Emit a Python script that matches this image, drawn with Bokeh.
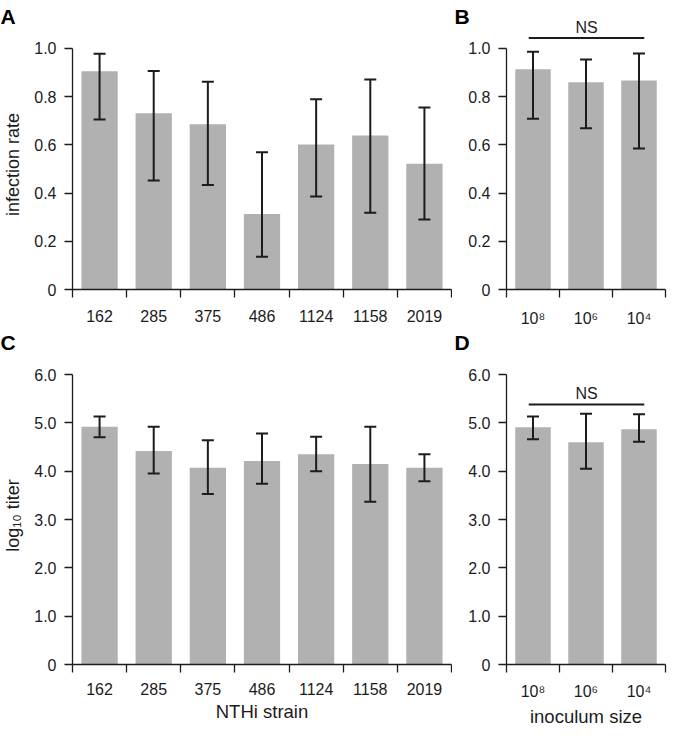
from bokeh.plotting import figure
from bokeh.models import Range1d, FixedTicker, Whisker, TeeHead, ColumnDataSource
from bokeh.layouts import column, row
from bokeh.embed import file_html
from bokeh.resources import INLINE
from bokeh.core.properties import value

# ---------------- data ----------------
strains = ["162", "285", "375", "486", "1124", "1158", "2019"]
inocula = ["10\u2078", "10\u2076", "10\u2074"]

rate_strain = [0.906, 0.731, 0.686, 0.313, 0.602, 0.639, 0.522]
rate_strain_lo = [0.705, 0.452, 0.434, 0.136, 0.386, 0.318, 0.290]
rate_strain_hi = [0.978, 0.907, 0.862, 0.569, 0.789, 0.871, 0.755]

rate_inoc = [0.914, 0.860, 0.867]
rate_inoc_lo = [0.708, 0.669, 0.585]
rate_inoc_hi = [0.986, 0.954, 0.979]

titer_strain = [4.92, 4.42, 4.07, 4.21, 4.35, 4.15, 4.07]
titer_strain_lo = [4.70, 3.95, 3.53, 3.74, 4.00, 3.37, 3.79]
titer_strain_hi = [5.13, 4.92, 4.64, 4.78, 4.71, 4.92, 4.35]

titer_inoc = [4.91, 4.60, 4.87]
titer_inoc_lo = [4.66, 4.05, 4.61]
titer_inoc_hi = [5.13, 5.19, 5.18]

rate_ticks = [0, 0.2, 0.4, 0.6, 0.8, 1.0]
rate_tick_labels = ["0", "0.2", "0.4", "0.6", "0.8", "1.0"]
titer_ticks = [0, 1, 2, 3, 4, 5, 6]
titer_tick_labels = ["0", "1.0", "2.0", "3.0", "4.0", "5.0", "6.0"]

panel_letters = ["A", "B", "C", "D"]
ns_label = "NS"

# ---------------- style / geometry ----------------
FONT = "Liberation Sans"
BAR = "#b1b1b1"
INK = "#1c1c1c"
TOTAL_W = 667
LEFT_W, RIGHT_W = 452, 215
L_BORDER_LEFT, L_BORDER_RIGHT = 65, 1
R_BORDER_LEFT, R_BORDER_RIGHT = 54, 2
NS_SPAN = (0.42, 2.6)


def blank(width, height, x_range, y_range):
    p = figure(width=width, height=height, output_backend="svg", toolbar_location=None,
               x_range=x_range, y_range=y_range, title=None, min_border=0,
               x_axis_location=None, y_axis_location=None)
    p.outline_line_color = None
    p.grid.visible = False
    return p


def letter(p, x, y, text):
    p.text(x=[x], y=[y], text=[text], text_align="left", text_baseline="middle",
           text_font=value(FONT), text_font_size="21px", text_font_style="bold",
           text_color="black")


def ns_mark(p, yline, ytext_offset):
    x0, x1 = NS_SPAN
    p.segment(x0=[x0], y0=[yline], x1=[x1], y1=[yline], line_width=2, line_color=INK)
    p.text(x=[(x0 + x1) / 2], y=[yline], text=[ns_label], text_align="center",
           text_baseline="middle", y_offset=ytext_offset, text_font=value(FONT),
           text_font_size="16px", text_color=INK)


def panel(cats, vals, lo, hi, y_end, y_top, yticks, ylabels, width, height,
          borders, xlabel=None, ylabel=None, xl_standoff=12):
    n = len(cats)
    centers = [i + 0.5 for i in range(n)]
    bl, br, bt, bb = borders
    p = figure(width=width, height=height, output_backend="svg", toolbar_location=None,
               x_range=Range1d(0, n), y_range=Range1d(0, y_end), title=None,
               min_border_left=bl, min_border_right=br, min_border_top=bt,
               min_border_bottom=bb)
    p.outline_line_color = None
    p.grid.visible = False
    p.background_fill_color = "white"
    p.border_fill_color = "white"

    p.vbar(x=centers, top=vals, width=0.67, fill_color=BAR, line_color=None)
    src = ColumnDataSource(dict(x=centers, lo=lo, hi=hi))
    p.add_layout(Whisker(base="x", lower="lo", upper="hi", source=src, level="overlay",
                         line_width=2, line_color=INK,
                         upper_head=TeeHead(size=12, line_width=2, line_color=INK),
                         lower_head=TeeHead(size=12, line_width=2, line_color=INK)))

    xa = p.xaxis[0]
    xa.ticker = FixedTicker(ticks=centers, minor_ticks=list(range(n + 1)))
    xa.major_label_overrides = {c: lab for c, lab in zip(centers, cats)}
    xa.major_tick_out = 0
    xa.major_tick_in = 0
    xa.minor_tick_out = 8
    xa.minor_tick_in = 0
    xa.minor_tick_line_color = INK
    xa.minor_tick_line_width = 1.3
    xa.axis_line_color = INK
    xa.axis_line_width = 1.3
    xa.major_label_standoff = xl_standoff
    xa.major_label_text_font = FONT
    xa.major_label_text_font_size = "16px"
    xa.major_label_text_color = INK
    if xlabel:
        xa.axis_label = xlabel
        xa.axis_label_text_font = FONT
        xa.axis_label_text_font_size = "18.5px"
        xa.axis_label_text_font_style = "normal"
        xa.axis_label_text_color = INK
        xa.axis_label_standoff = 3

    ya = p.yaxis[0]
    ya.ticker = FixedTicker(ticks=yticks, minor_ticks=[])
    ya.major_label_overrides = {t: lab for t, lab in zip(yticks, ylabels)}
    ya.bounds = (0, y_top)
    ya.major_tick_out = 8
    ya.major_tick_in = 0
    ya.minor_tick_out = 0
    ya.minor_tick_in = 0
    ya.major_tick_line_color = INK
    ya.major_tick_line_width = 1.3
    ya.axis_line_color = INK
    ya.axis_line_width = 1.3
    ya.major_label_standoff = 8
    ya.major_label_text_font = FONT
    ya.major_label_text_font_size = "16px"
    ya.major_label_text_color = INK
    if ylabel:
        ya.axis_label = ylabel
        ya.axis_label_text_font = FONT
        ya.axis_label_text_font_size = "18px"
        ya.axis_label_text_font_style = "normal"
        ya.axis_label_text_color = INK
        ya.axis_label_standoff = 8
    return p


BAND1, H1, BAND2, H2 = 39, 290, 25, 376
Y1_END = 1.0373
Y2_END = 6.166

# top band: letter A, letter B and the NS bracket of panel B (same x scale as panel B)
band_a = blank(LEFT_W, BAND1, Range1d(0, LEFT_W), Range1d(0, BAND1))
letter(band_a, 0, BAND1 - 15.5, panel_letters[0])
ppu_b = (RIGHT_W - R_BORDER_LEFT - R_BORDER_RIGHT) / len(inocula)
band_b = blank(RIGHT_W, BAND1,
               Range1d(-R_BORDER_LEFT / ppu_b, len(inocula) + R_BORDER_RIGHT / ppu_b),
               Range1d(0, BAND1))
letter(band_b, (2 - R_BORDER_LEFT) / ppu_b, BAND1 - 15.5, panel_letters[1])
ns_mark(band_b, 1.5, -10.5)

pa = panel(strains, rate_strain, rate_strain_lo, rate_strain_hi, Y1_END, 1.0,
           rate_ticks, rate_tick_labels, LEFT_W, H1, (L_BORDER_LEFT, L_BORDER_RIGHT, 0, 40),
           ylabel="infection rate")
pb = panel(inocula, rate_inoc, rate_inoc_lo, rate_inoc_hi, Y1_END, 1.0,
           rate_ticks, rate_tick_labels, RIGHT_W, H1, (R_BORDER_LEFT, R_BORDER_RIGHT, 0, 40))

# second band: letters C and D
band_2 = blank(TOTAL_W, BAND2, Range1d(0, TOTAL_W), Range1d(0, BAND2))
letter(band_2, 0, BAND2 - 12.5, panel_letters[2])
letter(band_2, LEFT_W + 2, BAND2 - 12.5, panel_letters[3])

pc = panel(strains, titer_strain, titer_strain_lo, titer_strain_hi, Y2_END, 6.0,
           titer_ticks, titer_tick_labels, LEFT_W, H2, (L_BORDER_LEFT, L_BORDER_RIGHT, 12, 66),
           xlabel="NTHi strain", ylabel="log\u2081\u2080 titer", xl_standoff=10)
pd_ = panel(inocula, titer_inoc, titer_inoc_lo, titer_inoc_hi, Y2_END, 6.0,
            titer_ticks, titer_tick_labels, RIGHT_W, H2, (R_BORDER_LEFT, R_BORDER_RIGHT, 12, 66),
            xlabel="inoculum size", xl_standoff=10)
ns_mark(pd_, 5.38, -11)

layout = column(row(band_a, band_b), row(pa, pb), band_2, row(pc, pd_))
open("out.html", "w").write(file_html(layout, INLINE))
